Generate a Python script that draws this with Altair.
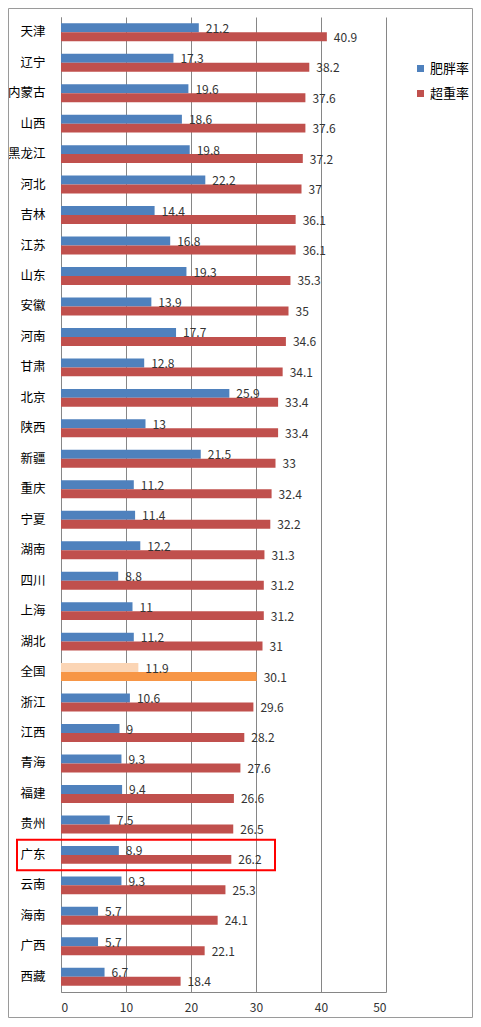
import altair as alt
import pandas as pd

provinces = ["天津", "辽宁", "内蒙古", "山西", "黑龙江", "河北", "吉林", "江苏",
             "山东", "安徽", "河南", "甘肃", "北京", "陕西", "新疆", "重庆",
             "宁夏", "湖南", "四川", "上海", "湖北", "全国", "浙江", "江西",
             "青海", "福建", "贵州", "广东", "云南", "海南", "广西", "西藏"]
obesity = [21.2, 17.3, 19.6, 18.6, 19.8, 22.2, 14.4, 16.8, 19.3, 13.9, 17.7, 12.8,
           25.9, 13, 21.5, 11.2, 11.4, 12.2, 8.8, 11, 11.2, 11.9, 10.6, 9,
           9.3, 9.4, 7.5, 8.9, 9.3, 5.7, 5.7, 6.7]
overweight = [40.9, 38.2, 37.6, 37.6, 37.2, 37, 36.1, 36.1, 35.3, 35, 34.6, 34.1,
              33.4, 33.4, 33, 32.4, 32.2, 31.3, 31.2, 31.2, 31, 30.1, 29.6, 28.2,
              27.6, 26.6, 26.5, 26.2, 25.3, 24.1, 22.1, 18.4]
series = ["肥胖率", "超重率"]
highlight = "广东"
national = "全国"

rows = []
for p, a, b in zip(provinces, obesity, overweight):
    for s, v in zip(series, [a, b]):
        key = ("全国" + s) if p == national else s
        rows.append({"省份": p, "指标": s, "值": v, "颜色": key})
df = pd.DataFrame(rows)

font = "Noto Sans CJK SC"
W, H = 325, 975

y_enc = alt.Y("省份:N", sort=provinces, title=None,
              scale=alt.Scale(paddingInner=0, paddingOuter=0),
              axis=alt.Axis(ticks=False, domainColor="#868686", labelPadding=16,
                            labelFontSize=12.5, labelColor="#000000", labelFont=font))
x_enc = alt.X("值:Q", title=None,
              scale=alt.Scale(domain=[0, 50], nice=False),
              axis=alt.Axis(values=[0, 10, 20, 30, 40, 50], ticks=False, grid=True,
                            gridColor="#868686", domainColor="#868686",
                            labelFontSize=12, labelColor="#333333", labelPadding=10,
                            labelFont=font))
yoff = alt.YOffset("指标:N", sort=series, scale=alt.Scale(paddingOuter=0.7))

base = alt.Chart(df)

bars = base.mark_bar().encode(
    x=x_enc,
    y=y_enc,
    yOffset=yoff,
    color=alt.Color(
        "颜色:N",
        scale=alt.Scale(domain=["肥胖率", "超重率", "全国肥胖率", "全国超重率"],
                        range=["#4F81BD", "#C0504D", "#FBD5B5", "#F79646"]),
        legend=alt.Legend(title=None, values=series, orient="none",
                          legendX=353, legendY=45, symbolType="square",
                          symbolSize=49, symbolStrokeWidth=0, labelFontSize=13,
                          labelFont=font, labelColor="#000000", rowPadding=11,
                          labelOffset=3, padding=0),
    ),
)

labels = base.mark_text(align="left", baseline="middle", dx=7, dy=1,
                        fontSize=12, color="#333333", font=font).encode(
    x="值:Q",
    y=alt.Y("省份:N", sort=provinces),
    yOffset=yoff,
    text="值:Q",
)

box = alt.Chart(df[(df["省份"] == highlight) & (df["指标"] == series[0])]).mark_rect(
    fill=None, stroke="#FF0000", strokeWidth=2
).encode(
    y=alt.Y("省份:N", sort=provinces),
    x=alt.value(-44),
    x2=alt.value(214),
)

frame = alt.Chart(pd.DataFrame({"f": [0]})).mark_rect(
    fill=None, stroke="#9A9A9A", strokeWidth=1
).encode(
    x=alt.value(-52.5), x2=alt.value(W + 86.5),
    y=alt.value(-8.5), y2=alt.value(H + 25.5),
)

chart = alt.layer(frame, bars, labels, box).properties(
    width=W, height=H,
    autosize=alt.AutoSizeParams(type="none"),
    padding={"left": 53, "top": 9, "right": 87, "bottom": 26},
    background="#FFFFFF",
).configure_view(stroke=None)

chart.save("out.html", embed_options={"renderer": "svg", "actions": False})
